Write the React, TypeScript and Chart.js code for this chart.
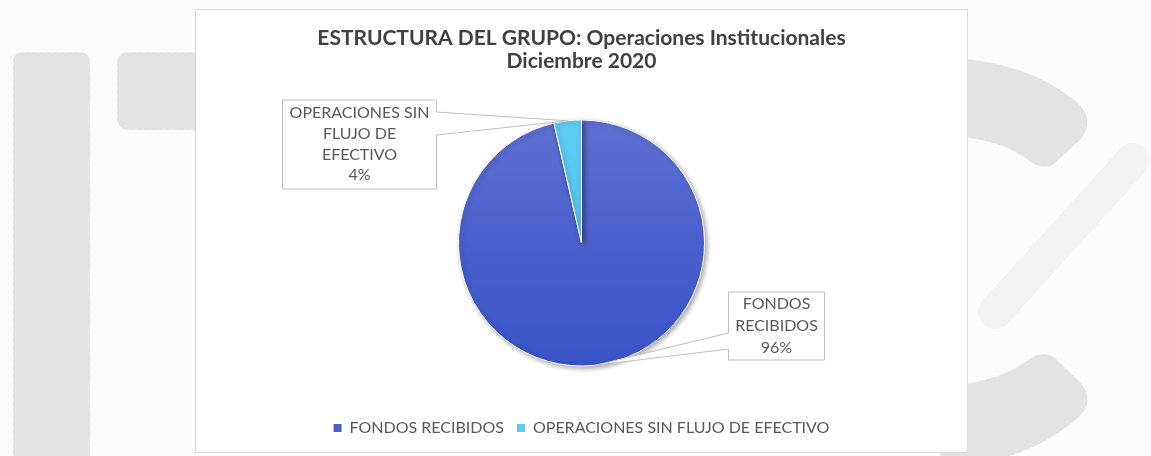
import React, { useEffect, useRef } from "react";
import { Chart, registerables } from "chart.js";

Chart.register(...registerables);

// ---- data ----
const categories = ["FONDOS RECIBIDOS", "OPERACIONES SIN FLUJO DE EFECTIVO"];
const values = [96.4, 3.6];
const calloutLines = [
  ["FONDOS", "RECIBIDOS"],
  ["OPERACIONES SIN", "FLUJO DE", "EFECTIVO"],
];
const titleLines = ["ESTRUCTURA DEL GRUPO: Operaciones Institucionales", "Diciembre 2020"];
const sliceColors = ["#4A61CC", "#5CCBF3"];

const TEXT_COLOR = "#595959";
const FONT_FAMILY = "Lato, 'Liberation Sans', Arial, sans-serif";

// callout box geometry, relative to the pie centre
const calloutBoxes = [
  { dx: 147, dy: 49, w: 96, h: 68, side: "left", wy1: 41, wy2: 57, first: 12, gap: 22 },
  { dx: -299, dy: -143, w: 154, h: 89, side: "right", wy1: 12, wy2: 35, first: 13, gap: 20.7 },
];

const calloutPlugin = {
  id: "callouts",
  afterDatasetsDraw(chart: any) {
    const ctx = chart.ctx;
    const meta = chart.getDatasetMeta(0);
    const data = chart.data.datasets[0].data as number[];
    const total = data.reduce((a, b) => a + b, 0);
    meta.data.forEach((arc: any, i: number) => {
      const { x, y, startAngle, endAngle, outerRadius } = arc.getProps(
        ["x", "y", "startAngle", "endAngle", "outerRadius"],
        true
      );
      const mid = (startAngle + endAngle) / 2;
      const tx = x + Math.cos(mid) * outerRadius;
      const ty = y + Math.sin(mid) * outerRadius;
      const b = calloutBoxes[i];
      const L = x + b.dx;
      const T = y + b.dy;
      const R = L + b.w;
      const B = T + b.h;
      ctx.save();
      ctx.beginPath();
      if (b.side === "right") {
        ctx.moveTo(L, T);
        ctx.lineTo(R, T);
        ctx.lineTo(R, T + b.wy1);
        ctx.lineTo(tx, ty);
        ctx.lineTo(R, T + b.wy2);
        ctx.lineTo(R, B);
        ctx.lineTo(L, B);
      } else {
        ctx.moveTo(L, T);
        ctx.lineTo(R, T);
        ctx.lineTo(R, B);
        ctx.lineTo(L, B);
        ctx.lineTo(L, T + b.wy2);
        ctx.lineTo(tx, ty);
        ctx.lineTo(L, T + b.wy1);
      }
      ctx.closePath();
      ctx.fillStyle = "#ffffff";
      ctx.fill();
      ctx.strokeStyle = "#bfbfbf";
      ctx.lineWidth = 1;
      ctx.stroke();
      ctx.fillStyle = TEXT_COLOR;
      ctx.font = `16px ${FONT_FAMILY}`;
      ctx.textAlign = "center";
      ctx.textBaseline = "middle";
      const lines = [...calloutLines[i], `${Math.round((data[i] / total) * 100)}%`];
      lines.forEach((ln, k) => {
        ctx.fillText(ln, (L + R) / 2, T + b.first + k * b.gap);
      });
      ctx.restore();
    });
  },
};

const shadowPlugin = {
  id: "pieShadow",
  beforeDatasetsDraw(chart: any) {
    const ctx = chart.ctx;
    ctx.save();
    ctx.shadowColor = "rgba(0,0,0,0.35)";
    ctx.shadowBlur = 5;
    ctx.shadowOffsetX = 2;
    ctx.shadowOffsetY = 2;
  },
  afterDatasetsDraw(chart: any) {
    chart.ctx.restore();
  },
};

function sliceFill(context: any) {
  const chart = context.chart;
  const idx = context.dataIndex;
  const base = sliceColors[idx];
  const area = chart.chartArea;
  if (!area) return base;
  const cy = (area.top + area.bottom) / 2;
  const g = chart.ctx.createLinearGradient(0, cy - 123, 0, cy + 123);
  if (idx === 0) {
    g.addColorStop(0, "#5D70D1");
    g.addColorStop(0.5, "#4A60CC");
    g.addColorStop(1, "#3953C6");
  } else {
    g.addColorStop(0, "#5ECDF4");
    g.addColorStop(1, "#45B8EA");
  }
  return g;
}

function ChartView() {
  const ref = useRef<HTMLCanvasElement | null>(null);
  useEffect(() => {
    if (!ref.current) return;
    const chart = new Chart(ref.current, {
      type: "pie",
      data: {
        labels: categories,
        datasets: [
          {
            data: values,
            backgroundColor: sliceFill as any,
            borderColor: "#ffffff",
            borderWidth: 1,
            radius: 123,
          } as any,
        ],
      },
      options: {
        responsive: false,
        devicePixelRatio: 1,
        animation: false,
        layout: { padding: { top: 0, bottom: 6, left: 0, right: 0 } },
        plugins: {
          title: {
            display: true,
            text: titleLines,
            color: "#404040",
            font: { family: FONT_FAMILY, size: 21, weight: "bold", lineHeight: 1.1 },
            padding: { top: 16.45, bottom: 6.35 },
          },
          legend: {
            display: true,
            position: "bottom",
            labels: {
              color: TEXT_COLOR,
              font: { family: FONT_FAMILY, size: 16 },
              boxWidth: 8,
              boxHeight: 8,
              padding: 13,
              generateLabels: (c: any) =>
                c.data.labels.map((l: string, i: number) => ({
                  text: l,
                  fillStyle: sliceColors[i],
                  strokeStyle: sliceColors[i],
                  lineWidth: 0,
                  hidden: false,
                  index: i,
                  fontColor: TEXT_COLOR,
                })),
            },
          },
          tooltip: { enabled: false },
        },
      },
      plugins: [shadowPlugin, calloutPlugin],
    });
    return () => chart.destroy();
  }, []);
  return <canvas ref={ref} width={771} height={442} style={{ display: "block", width: 771, height: 442 }} />;
}

function Watermark() {
  return (
    <svg width={1151} height={456} style={{ position: "absolute", left: 0, top: 0 }}>
      <g fill="#e3e3e3" stroke="#f7f7f7" strokeWidth={1} strokeDasharray="4 3">
        <rect x={13} y={52} width={77} height={420} rx={9} />
        <rect x={117} y={52} width={150} height={78} rx={11} />
        <path d="M 940 57 Q 1030 60 1080 105 Q 1095 122 1080 140 L 1055 163 Q 1043 172 1028 160 Q 1000 138 940 135 Z" />
        <path d="M 940 470 Q 1030 462 1080 416 Q 1095 400 1080 382 L 1055 358 Q 1043 349 1028 360 Q 1000 382 940 387 Z" />
      </g>
      <line x1={1133} y1={160} x2={995} y2={312} stroke="#f3f3f3" strokeWidth={34} strokeLinecap="round" />
    </svg>
  );
}

export default function App() {
  return (
    <div
      style={{
        position: "fixed",
        left: 0,
        top: 0,
        width: 1151,
        height: 456,
        overflow: "hidden",
        background: "#fcfcfc",
      }}
    >
      <Watermark />
      <div
        style={{
          position: "absolute",
          left: 195,
          top: 9,
          width: 771,
          height: 442,
          border: "1px solid #d9d9d9",
          background: "#ffffff",
        }}
      >
        <ChartView />
      </div>
    </div>
  );
}
